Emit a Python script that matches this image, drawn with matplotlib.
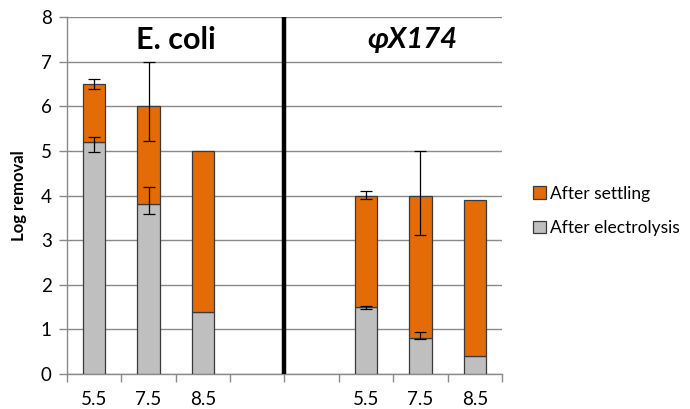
import numpy as np
import matplotlib
matplotlib.use("Agg")
import matplotlib.pyplot as plt

plt.rcParams['font.family'] = ['Lato', 'DejaVu Sans']

# pH categories (two blank slots separate the two organisms)
categories = ["5.5", "7.5", "8.5", "", "", "5.5", "7.5", "8.5"]

# Log removal after electrolysis (lower segment)
electrolysis = [5.2, 3.8, 1.4, np.nan, np.nan, 1.5, 0.8, 0.4]
# Additional log removal after settling (upper segment)
settling = [1.3, 2.2, 3.6, np.nan, np.nan, 2.5, 3.2, 3.5]

# Asymmetric error bars (lower, upper)
elec_err_low = [0.22, 0.22, 0.0, 0.0, 0.0, 0.05, 0.02, 0.0]
elec_err_high = [0.12, 0.38, 0.0, 0.0, 0.0, 0.03, 0.13, 0.0]
settle_err_low = [0.12, 0.78, 0.0, 0.0, 0.0, 0.08, 0.88, 0.0]
settle_err_high = [0.12, 1.0, 0.0, 0.0, 0.0, 0.1, 1.0, 0.0]

orange = "#E36C09"
grey = "#BFBFBF"
edge = "#3a3a3a"

fig = plt.figure(figsize=(6.9, 4.09), dpi=100)
ax = fig.add_axes([0.0971, 0.0856, 0.6304, 0.8728])

x = np.arange(len(categories))
elec = np.array(electrolysis, dtype=float)
sett = np.array(settling, dtype=float)
total = elec + sett
width = 0.41

ax.bar(x, elec, width, color=grey, edgecolor=edge, linewidth=0.9,
       label="After electrolysis", zorder=3)
ax.bar(x, sett, width, bottom=elec, color=orange, edgecolor=edge,
       linewidth=0.9, label="After settling", zorder=3)

ok = ~np.isnan(elec)
has_e = ok & ((np.array(elec_err_low) + np.array(elec_err_high)) > 0)
has_s = ok & ((np.array(settle_err_low) + np.array(settle_err_high)) > 0)
ax.errorbar(x[has_e], elec[has_e],
            yerr=[np.array(elec_err_low)[has_e], np.array(elec_err_high)[has_e]],
            fmt="none", ecolor="black", elinewidth=0.9, capsize=4.5,
            capthick=0.9, zorder=5)
ax.errorbar(x[has_s], total[has_s],
            yerr=[np.array(settle_err_low)[has_s], np.array(settle_err_high)[has_s]],
            fmt="none", ecolor="black", elinewidth=0.9, capsize=4.5,
            capthick=0.9, zorder=5)

# Divider between the two organisms
ax.axvline(3.5, color="black", linewidth=3.2, zorder=6)

ax.set_xlim(-0.5, len(categories) - 0.5)
ax.set_ylim(0, 8)
ax.set_yticks(range(0, 9))
ax.yaxis.grid(True, color="#8a8a8a", linewidth=1.0, zorder=0)
ax.set_axisbelow(True)

ax.set_xticks(x)
ax.set_xticklabels(categories, fontsize=13.5)
ax.set_xticks(np.arange(-0.5, len(categories)), minor=True)
ax.tick_params(axis="x", which="major", length=0, pad=12)
ax.tick_params(axis="x", which="minor", length=6, color="#8a8a8a", width=1.0)
ax.tick_params(axis="y", length=6, color="#8a8a8a", width=1.0, labelsize=13.5, pad=5)

for s in ("top", "right"):
    ax.spines[s].set_visible(False)
for s in ("left", "bottom"):
    ax.spines[s].set_color("#8a8a8a")
    ax.spines[s].set_linewidth(1.0)

ax.set_ylabel("Log removal", fontsize=12, fontweight="bold", labelpad=10)

ax.text(1.5, 7.48, "E. coli", ha="center", va="center", fontsize=22,
        fontweight="bold", zorder=7)
ax.text(5.85, 7.48, "\u03c6X174", ha="center", va="center", fontsize=21,
        fontweight="bold", fontstyle="italic", zorder=7)

handles, labels = ax.get_legend_handles_labels()
leg = fig.legend(handles[::-1], labels[::-1], loc="center left",
                 bbox_to_anchor=(0.773, 0.485), frameon=False, fontsize=12.5,
                 handlelength=0.7, handleheight=0.7, handletextpad=0.25,
                 labelspacing=1.05, borderpad=0, borderaxespad=0)

fig.savefig("out.png", dpi=100)
